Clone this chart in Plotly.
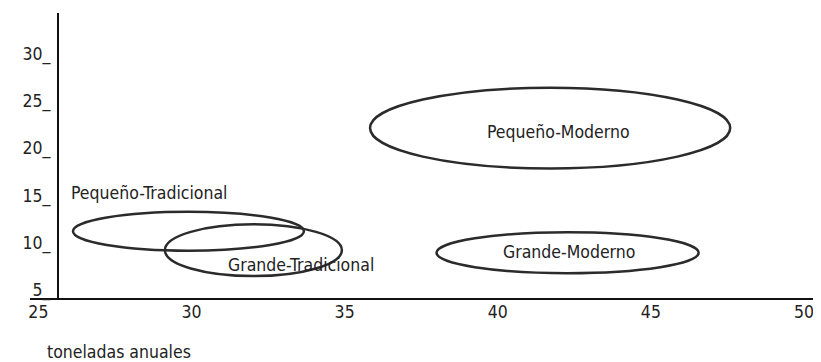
import plotly.graph_objects as go

FONT = "DejaVu Sans Condensed, Liberation Sans Narrow, sans-serif"
FS = 17.5

# Groups (ellipse centre and half-axes in data units)
groups = ["Pequeño-Moderno", "Grande-Moderno", "Pequeño-Tradicional", "Grande-Tradicional"]
center_x = [41.71, 42.28, 29.90, 32.02]
center_y = [22.88, 9.69, 11.96, 9.96]
half_w = [5.88, 4.28, 3.77, 2.89]
half_h = [4.27, 2.16, 2.06, 2.74]

# Label anchor points (data units)
label_x = [41.97, 42.34, 28.60, 33.58]
label_y = [22.51, 9.75, 15.97, 8.38]

x_ticks = [25, 30, 35, 40, 45, 50]
y_ticks = [5, 10, 15, 20, 25, 30]
y_ticktext = [f"{v}_" for v in y_ticks]
x_title = "toneladas anuales"

fig = go.Figure()

# invisible trace so axes are created
fig.add_trace(go.Scatter(x=label_x, y=label_y, mode="markers",
                         marker=dict(opacity=0), hoverinfo="skip", showlegend=False))

for cx, cy, a, b in zip(center_x, center_y, half_w, half_h):
    fig.add_shape(type="circle", xref="x", yref="y",
                  x0=cx - a, x1=cx + a, y0=cy - b, y1=cy + b,
                  line=dict(color="#2b2b2b", width=2.5))

for name, lx, ly in zip(groups, label_x, label_y):
    fig.add_annotation(x=lx, y=ly, text=name, showarrow=False,
                       font=dict(family=FONT, size=FS, color="#222"),
                       xanchor="center", yanchor="middle")

fig.add_annotation(xref="paper", yref="paper", x=0.019, y=0, yshift=-54,
                   text=x_title, showarrow=False, xanchor="left", yanchor="middle",
                   font=dict(family=FONT, size=FS, color="#222"))

# The page body has an 8px margin, so the figure is 8px smaller than the window.
fig.update_layout(
    width=813, height=354,
    margin=dict(l=22, r=0, t=5, b=64),
    plot_bgcolor="white", paper_bgcolor="white",
    showlegend=False,
    font=dict(family=FONT, size=FS, color="#222"),
    xaxis=dict(range=[24.726, 50.555], tickvals=x_ticks, ticks="",
               showgrid=False, zeroline=False, showline=True,
               linecolor="#111", linewidth=2, automargin=False,
               ticklabelstandoff=-3, ticklabeloverflow="allow",
               tickfont=dict(family=FONT, size=FS, color="#222")),
    yaxis=dict(range=[4.9, 35.06], tickvals=y_ticks, ticktext=y_ticktext,
               ticks="", showgrid=False, zeroline=False, showline=True,
               linecolor="#111", linewidth=2, anchor="free", position=0.0354,
               automargin=False, ticklabelshift=-7, ticklabelstandoff=3,
               ticklabeloverflow="allow",
               tickfont=dict(family=FONT, size=FS, color="#222")),
)

fig.write_html("out.html")
